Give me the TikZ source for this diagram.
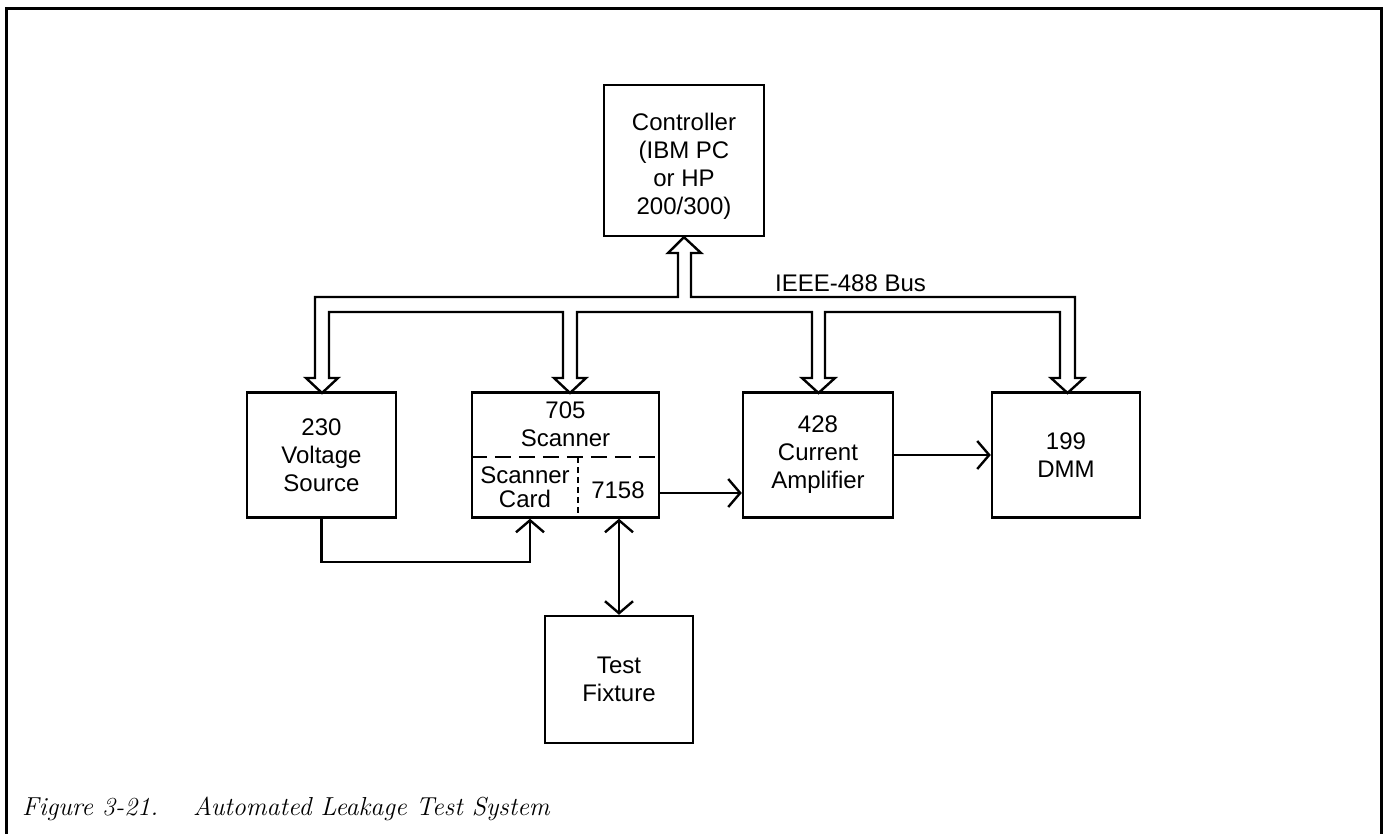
\documentclass[tikz,border=0pt]{standalone}
\usepackage{fontspec}
\newfontfamily\hsf{Liberation Sans}
\usetikzlibrary{arrows.meta,calc}
\begin{document}
\begin{tikzpicture}[x=1pt,y=-1pt,
  box/.style={draw,line width=2.4pt,rectangle,inner sep=0pt,font=\hsf\fontsize{24}{28}\selectfont,align=center},
  lbl/.style={inner sep=0pt,font=\hsf\fontsize{24}{28}\selectfont,align=center},
  ln/.style={line width=2.4pt},
  barb/.tip={Straight Barb[length=12pt,width=28pt]},
  captionstyle/.style={inner sep=0pt,anchor=base west,font=\itshape\fontsize{26}{30}\selectfont}
]
\useasboundingbox (0,0) rectangle (1385,834);
% frame
\draw[line width=3pt] (6,834) -- (6,9) -- (1381,9) -- (1381,834);

% boxes
\node[box,minimum width=160,minimum height=151] (ctrl) at (684,160.5) {};
\node[lbl] (ctrltxt) at (684,166) {Controller\\(IBM PC\\or HP\\200/300)};
\node[box,minimum width=149,minimum height=125] (vs) at (321.5,455) {230\\Voltage\\Source};
\node[box,minimum width=187,minimum height=125] (scan) at (565.5,455) {};
\node[box,minimum width=150,minimum height=125] (amp) at (818,455) {428\\Current\\Amplifier};
\node[box,minimum width=148,minimum height=125] (dmm) at (1066,455) {199\\DMM};
\node[box,minimum width=148,minimum height=127] (tf) at (619,679.5) {Test\\Fixture};

% scanner internals
\node[lbl] (scantop) at (565.5,424) {705\\Scanner};
\node[lbl,font=\hsf\fontsize{24}{24}\selectfont] (card) at (525,487) {Scanner\\Card};
\node[lbl] (card7158) at (618,490) {7158};
\draw[ln,dash pattern=on 16pt off 8pt] (scan.west |- 0,457) -- (scan.east |- 0,457);
\draw[line width=2pt,dash pattern=on 6pt off 4pt] (578,457) -- (scan.south -| 578,0);

% IEEE-488 bus (hollow arrows)
\draw[ln,line join=miter]
  (315,297) -- (315,378) -- (306,378) -- (322,393) -- (338,378) -- (329,378)
  -- (329,312) -- (563,312) -- (563,378) -- (554,378) -- (570,393) -- (586,378) -- (577,378)
  -- (577,312) -- (812,312) -- (812,378) -- (802,378) -- (818.5,393) -- (835,378) -- (825,378)
  -- (825,312) -- (1060,312) -- (1060,378) -- (1051,378) -- (1067.5,393) -- (1084,378) -- (1075,378)
  -- (1075,297) -- (691,297) -- (691,253) -- (701,253) -- (ctrl.south) -- (668,253) -- (678,253)
  -- (678,297) -- cycle;
\node[lbl,anchor=base west] (bus) at (775,292) {IEEE-488 Bus};

% signal connectors
\draw[ln,-barb] (scan.east |- 0,493) -- (amp.west |- 0,493);
\draw[ln,-barb] (amp.east) -- (dmm.west);
\draw[ln,-barb] (vs.south) |- (530,562) -- (scan.south -| 530,0);
\draw[ln,barb-barb] (scan.south -| tf.north) -- (tf.north);

% caption
\node[captionstyle] (figno) at (22,815) {Figure 3-21.};
\node[captionstyle] (captxt) at (193,815) {Automated Leakage Test System};
\end{tikzpicture}
\end{document}
